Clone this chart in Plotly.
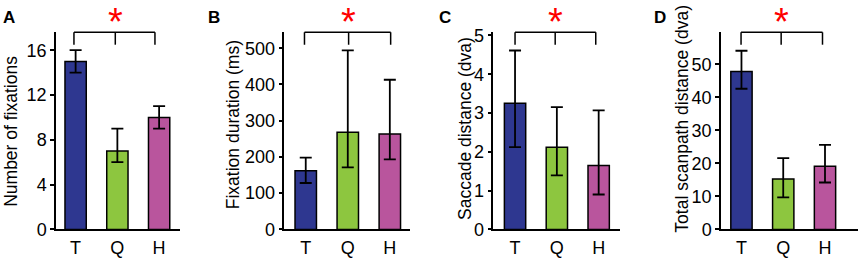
import plotly.graph_objects as go

# ---------------- data ----------------
categories = ["T", "Q", "H"]
bar_colors = ["#2e3790", "#8dc63f", "#b9559d"]

fix_count = [15, 7, 10]
fix_count_up = [1, 2, 1]
fix_count_dn = [1, 1, 1]

fix_dur = [162, 268, 263]
fix_dur_up = [36, 226, 150]
fix_dur_dn = [34, 97, 70]

sacc_dist = [3.25, 2.12, 1.65]
sacc_dist_up = [1.36, 1.03, 1.42]
sacc_dist_dn = [1.13, 0.73, 0.75]

scan_dist = [47.8, 15.3, 19.1]
scan_dist_up = [6.3, 6.3, 6.5]
scan_dist_dn = [5.2, 5.6, 4.9]

panel_letters = ["A", "B", "C", "D"]
y_titles = ["Number of fixations", "Fixation duration (ms)",
            "Saccade distance (dva)", "Total scanpath distance (dva)"]
y_ticks = [[0, 4, 8, 12, 16],
           [0, 100, 200, 300, 400, 500],
           [0, 1, 2, 3, 4, 5],
           [0, 10, 20, 30, 40, 50]]

panels = [
    (fix_count, fix_count_up, fix_count_dn),
    (fix_dur, fix_dur_up, fix_dur_dn),
    (sacc_dist, sacc_dist_up, sacc_dist_dn),
    (scan_dist, scan_dist_up, scan_dist_dn),
]

# ---------------- layout constants ----------------
W, H = 859, 261
FONT = "Liberation Sans, Arial, Helvetica, sans-serif"
x_dom_px = [(56, 180), (284.3, 410), (493.3, 620), (721, 858)]
y_dom_px = (28, 238)  # top, bottom (pixels from top)
x_ranges = [[-0.47, 2.5], [-0.51, 2.48], [-0.52, 2.51], [-0.49, 2.79]]
y_tops = [17.6, 544, 5.08, 59.7]
bracket_x = [[-0.04, 0.95, 1.9], [-0.03, 1.02, 2.02], [0.0, 0.96, 1.93], [-0.01, 0.95, 1.94]]
letter_px = [1, 206, 437, 652]
title_px = [(11.5, 133.5), (233, 127), (465, 131), (682, 120)]

fig = go.Figure()
shapes = []
annotations = []
layout = {}

for i, (vals, up, dn) in enumerate(panels):
    n = "" if i == 0 else str(i + 1)
    xa, ya = "x" + n, "y" + n
    fig.add_trace(go.Bar(
        x=categories, y=vals, xaxis=xa, yaxis=ya, width=0.51,
        marker=dict(color=bar_colors, line=dict(color="black", width=1.5)),
        error_y=dict(type="data", symmetric=False, array=up, arrayminus=dn,
                     color="black", thickness=1.8, width=6),
        showlegend=False, hoverinfo="skip",
    ))
    x0, x1 = x_dom_px[i]
    layout["xaxis" + n] = dict(
        domain=[x0 / W, x1 / W], anchor=ya, range=x_ranges[i],
        showline=True, linecolor="black", linewidth=1.5, ticks="",
        showgrid=False, zeroline=False, fixedrange=True, ticklabelstandoff=1,
        tickfont=dict(family=FONT, size=18, color="black"),
    )
    layout["yaxis" + n] = dict(
        domain=[1 - y_dom_px[1] / H, 1 - y_dom_px[0] / H], anchor=xa,
        range=[0, y_tops[i]], tickvals=y_ticks[i],
        showline=True, linecolor="black", linewidth=1.5,
        ticks="outside", ticklen=4, tickwidth=1.5, tickcolor="black",
        showgrid=False, zeroline=False, fixedrange=True,
        tickfont=dict(family=FONT, size=18, color="black"),
    )
    # significance bracket
    bx = bracket_x[i]
    yd = ya + " domain"
    line = dict(color="black", width=1.5)
    shapes.append(dict(type="line", xref=xa, yref=yd, x0=bx[0], x1=bx[2], y0=1.0, y1=1.0, line=line))
    for xb in bx:
        shapes.append(dict(type="line", xref=xa, yref=yd, x0=xb, x1=xb, y0=1.0, y1=0.937, line=line))
    annotations.append(dict(text="*", xref=xa, yref=yd, x=bx[1], y=1.05,
                            xanchor="center", yanchor="middle", showarrow=False,
                            font=dict(family=FONT, size=38, color="red")))
    # panel letter
    annotations.append(dict(text="<b>%s</b>" % panel_letters[i], xref="paper", yref="paper",
                            x=letter_px[i] / W, y=1.0, xanchor="left", yanchor="top",
                            showarrow=False, font=dict(family=FONT, size=17, color="black")))
    # y-axis title
    tx, ty = title_px[i]
    annotations.append(dict(text=y_titles[i], xref="paper", yref="paper",
                            x=tx / W, y=1 - ty / H, xanchor="center", yanchor="middle",
                            textangle=-90, showarrow=False,
                            font=dict(family=FONT, size=17.5, color="black")))

fig.update_layout(
    width=W, height=H, margin=dict(l=0, r=0, t=0, b=0),
    paper_bgcolor="white", plot_bgcolor="white",
    shapes=shapes, annotations=annotations, **layout,
)

fig.write_html("out.html", config={"displayModeBar": False},
               post_script="document.body.style.margin='0';")
